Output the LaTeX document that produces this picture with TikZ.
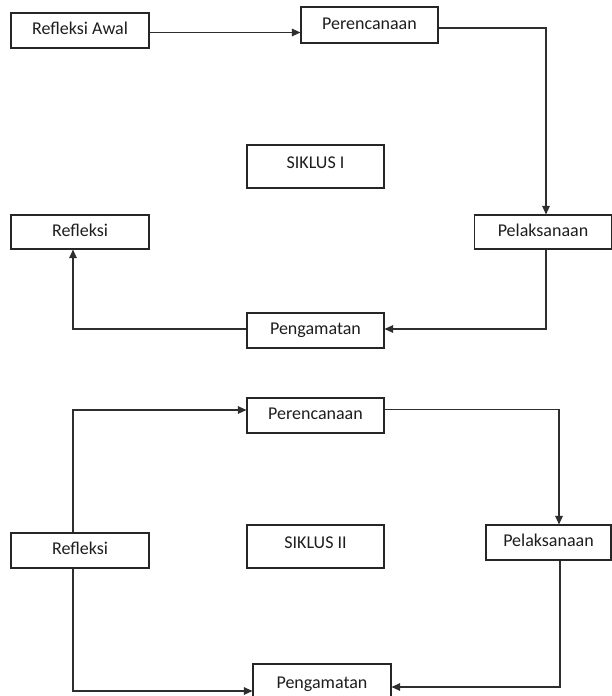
\documentclass[tikz,border=0pt]{standalone}
\usepackage{fontspec}
\setmainfont{Carlito}
\usetikzlibrary{arrows.meta}

\definecolor{linegray}{HTML}{2E2E2E}
\definecolor{textgray}{HTML}{1E1E1E}

\begin{document}
\begin{tikzpicture}
[x=1pt,y=-1pt,every node/.style={draw=black!85,line width=1.1pt,inner sep=0pt,
  text=textgray,font=\fontsize{18}{21}\selectfont,text height=11.5pt,text depth=3pt}]
\tikzset{flow/.style={draw=linegray,line width=1.1pt,-{Triangle[length=8.5pt,width=7.5pt]}},
  siklus/.style={minimum width=137pt,minimum height=43pt,text depth=7.5pt}}
\useasboundingbox[fill=white] (0,0) rectangle (612,696);
% siklus I
\node[minimum width=138pt,minimum height=35pt] (ra) at (80,30.5) {Refleksi Awal};
\node[minimum width=137pt,minimum height=36pt] (per1) at (369.5,25) {Perencanaan};
\node[siklus] (sik1) at (315.5,166.5) {SIKLUS I};
\node[minimum width=138pt,minimum height=34pt] (ref1) at (80,232) {Refleksi};
\node[minimum width=137pt,minimum height=34pt] (pel1) at (543,232) {Pelaksanaan};
\node[minimum width=137pt,minimum height=35pt] (pen1) at (315.5,330.5) {Pengamatan};
% siklus II
\node[minimum width=137pt,minimum height=35pt] (per2) at (315.5,415.5) {Perencanaan};
\node[siklus] (sik2) at (315.5,546.5) {SIKLUS II};
\node[minimum width=138pt,minimum height=35pt] (ref2) at (80,550.5) {Refleksi};
\node[minimum width=125pt,minimum height=35pt] (pel2) at (548.5,542.5) {Pelaksanaan};
\node[minimum width=138pt,minimum height=40pt] (pen2) at (322,684) {Pengamatan};
% alur
\draw[flow] ([yshift=-2pt]ra.east) -- ([yshift=-2pt]ra.east -| per1.west);
\draw[flow] ([yshift=-3pt]per1.east) -| ([xshift=3pt]pel1.north);
\draw[flow] ([xshift=3pt]pel1.south) |- ([yshift=1.5pt]pen1.east);
\draw[flow] ([yshift=1.5pt]pen1.west) -| ([xshift=-7pt]ref1.south);
\draw[flow] ([xshift=-7pt]ref2.north) |- ([yshift=5.5pt]per2.west);
\draw[flow] ([yshift=6pt]per2.east) -| ([xshift=10.5pt]pel2.north);
\draw[flow] ([xshift=11.5pt]pel2.south) |- ([yshift=-3pt]pen2.east);
\draw[flow] ([xshift=-7pt]ref2.south) |- ([yshift=-7pt]pen2.west);
\end{tikzpicture}
\end{document}
